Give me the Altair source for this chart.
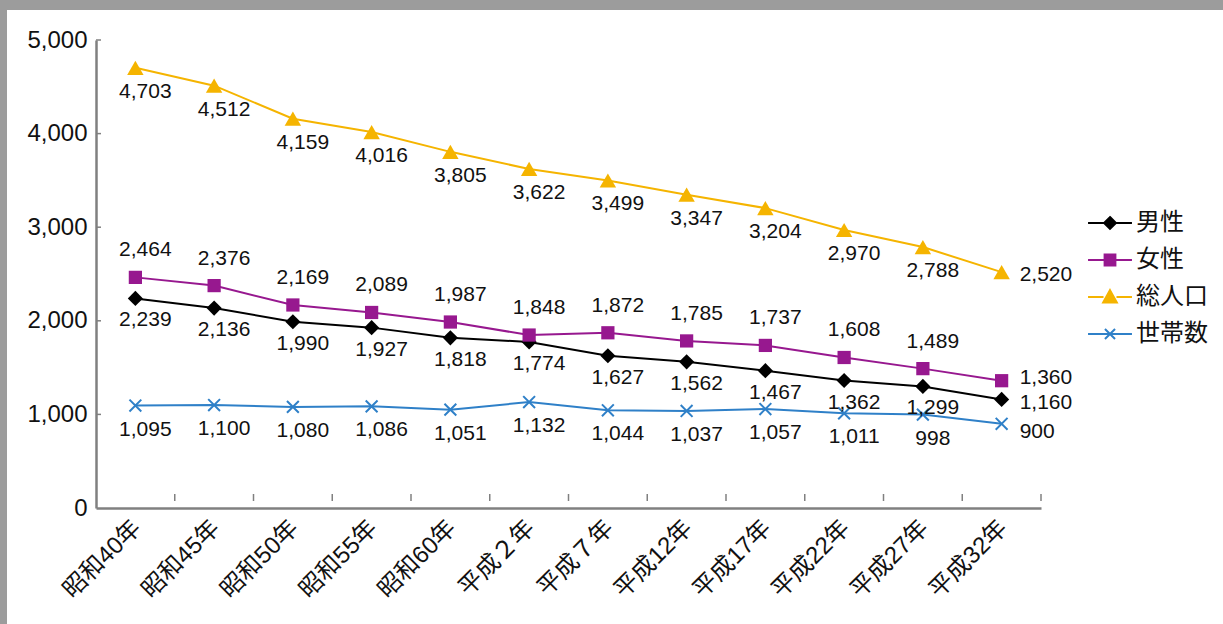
import altair as alt
import pandas as pd

years = ["昭和40年", "昭和45年", "昭和50年", "昭和55年", "昭和60年", "平成２年",
         "平成７年", "平成12年", "平成17年", "平成22年", "平成27年", "平成32年"]
male = [2239, 2136, 1990, 1927, 1818, 1774, 1627, 1562, 1467, 1362, 1299, 1160]
female = [2464, 2376, 2169, 2089, 1987, 1848, 1872, 1785, 1737, 1608, 1489, 1360]
total = [4703, 4512, 4159, 4016, 3805, 3622, 3499, 3347, 3204, 2970, 2788, 2520]
households = [1095, 1100, 1080, 1086, 1051, 1132, 1044, 1037, 1057, 1011, 998, 900]
series_names = ["男性", "女性", "総人口", "世帯数"]
series_colors = ["#000000", "#97188f", "#f5b400", "#2f80c8"]
y_ticks = [1000, 2000, 3000, 4000, 5000]

W, H = 945, 468
PAD_L, PAD_T = 96, 40
PAD_R, PAD_B = 1223 - PAD_L - W, 624 - PAD_T - H
FONT = "Liberation Sans, Noto Sans CJK JP, sans-serif"

rows = []
for name, vals in zip(series_names, [male, female, total, households]):
    for i, (yr, v) in enumerate(zip(years, vals)):
        rows.append({"year": yr, "series": name, "value": v, "last": i == len(years) - 1})
df = pd.DataFrame(rows)

x_enc = alt.X("year:N", sort=years,
              scale=alt.Scale(paddingInner=0, paddingOuter=0),
              axis=alt.Axis(title=None, labelAngle=-45, labelAlign="right",
                            labelBaseline="middle", labelFontSize=24, labelFont=FONT,
                            labelColor="#111", labelPadding=16, labelOffset=2,
                            ticks=False, domainColor="#808080", domainWidth=2.5,
                            grid=False, zindex=2))
y_enc = alt.Y("value:Q", scale=alt.Scale(domain=[0, 5000], nice=False),
              axis=alt.Axis(title=None, values=y_ticks + [0], format=",d",
                            labelFontSize=24, labelFont=FONT, labelColor="#111",
                            ticks=False, labelPadding=9, domainColor="#808080",
                            domainWidth=2.5, grid=False, zindex=2))

base = alt.Chart(df)

# white card over the grey frame
card = alt.Chart(pd.DataFrame({"a": [0]})).mark_rect(color="white").encode(
    x=alt.value(7 - PAD_L), x2=alt.value(W + PAD_R),
    y=alt.value(10 - PAD_T), y2=alt.value(H + PAD_B),
)

marker_shapes = {
    "男性": ("diamond", True, 230),
    "女性": ("square", True, 175),
    "総人口": ("triangle-up", True, 270),
    "世帯数": ("M-1,-1L1,1M1,-1L-1,1", False, 140),
}
label_dy = {"男性": 22, "女性": -27, "総人口": 24, "世帯数": 24}
last_dy = {"男性": 4, "女性": -3, "総人口": 3, "世帯数": 8}

lines, points, labels = [], [], []
for i, (name, col) in enumerate(zip(series_names, series_colors)):
    sub = base.transform_filter(alt.datum.series == name)
    lines.append(sub.mark_line(strokeWidth=2, color=col).encode(
        x=x_enc if i == 0 else alt.X("year:N", sort=years),
        y=y_enc if i == 0 else alt.Y("value:Q")))
    shp, filled, sz = marker_shapes[name]
    points.append(sub.mark_point(
        shape=shp, filled=filled, size=sz, opacity=1, color=col,
        strokeWidth=2 if not filled else 1,
    ).encode(x=alt.X("year:N", sort=years), y="value:Q"))
    labels.append(
        sub.transform_filter(alt.datum.last == False)
        .mark_text(fontSize=21, font=FONT, color="#111", dx=10, dy=label_dy[name])
        .encode(x=alt.X("year:N", sort=years), y="value:Q",
                text=alt.Text("value:Q", format=",d"))
    )
    labels.append(
        sub.transform_filter(alt.datum.last == True)
        .mark_text(fontSize=21, font=FONT, color="#111", dx=18, dy=last_dy[name], align="left")
        .encode(x=alt.X("year:N", sort=years), y="value:Q",
                text=alt.Text("value:Q", format=",d"))
    )

# small inward ticks
xt = alt.Chart(pd.DataFrame({"year": years})).mark_rule(color="#808080", strokeWidth=1.5).encode(
    x=alt.X("year:N", sort=years, bandPosition=1),
    y=alt.value(H - 14), y2=alt.value(H - 7),
)
yt = alt.Chart(pd.DataFrame({"v": y_ticks})).mark_rule(color="#808080", strokeWidth=1.5).encode(
    y=alt.Y("v:Q"), x=alt.value(0), x2=alt.value(5),
)

# legend-only layer (invisible marks, visible legend)
legend_paths = [
    "M-1.22,0L-0.33,0M0.33,0L1.22,0M0,-0.33L0.33,0L0,0.33L-0.33,0Z",
    "M-1.22,0L-0.3,0M0.3,0L1.22,0M-0.3,-0.3L0.3,-0.3L0.3,0.3L-0.3,0.3Z",
    "M-1.22,0L-0.36,0M0.36,0L1.22,0M0,-0.38L0.38,0.3L-0.38,0.3Z",
    "M-1.22,0L1.22,0M-0.28,-0.28L0.28,0.28M0.28,-0.28L-0.28,0.28",
]
leg = alt.Legend(orient="none", legendX=995, legendY=164, title=None,
                 labelFontSize=24, labelFont=FONT, labelColor="#111",
                 symbolSize=1296, symbolStrokeWidth=2, rowPadding=6, labelOffset=7,
                 symbolOpacity=1)
legend_layer = base.mark_point(filled=True).encode(
    x=alt.X("year:N", sort=years), y="value:Q",
    fill=alt.Fill("series:N", scale=alt.Scale(domain=series_names, range=series_colors),
                  legend=leg),
    stroke=alt.Stroke("series:N", scale=alt.Scale(domain=series_names, range=series_colors),
                      legend=leg),
    shape=alt.Shape("series:N", scale=alt.Scale(domain=series_names, range=legend_paths),
                    legend=leg),
    opacity=alt.value(0),
)

chart = alt.layer(card, *lines, *points, *labels, xt, yt, legend_layer).properties(
    width=W, height=H,
    autosize=alt.AutoSizeParams(type="none"),
    padding={"left": PAD_L, "top": PAD_T, "right": PAD_R, "bottom": PAD_B},
).configure_view(strokeWidth=0).configure(background="#9c9c9c")

chart.save("out.html", embed_options={"renderer": "svg", "actions": False})
